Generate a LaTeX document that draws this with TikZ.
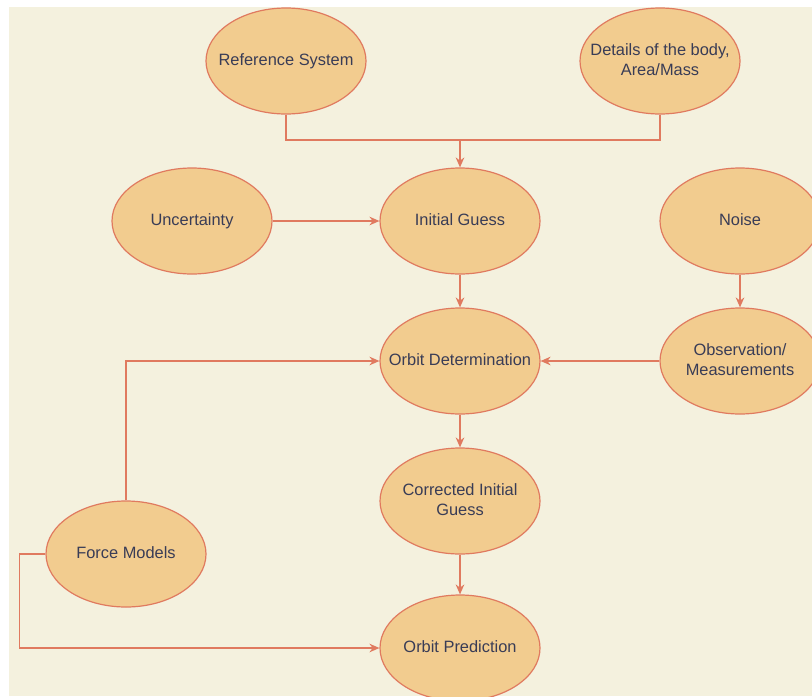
\documentclass[tikz,border=0pt]{standalone}
\usepackage{fontspec}
\setmainfont{Liberation Sans}
\usepackage{xcolor}
\usetikzlibrary{shapes.geometric, arrows.meta}

\definecolor{bgcol}{HTML}{F4F1DE}
\definecolor{fillcol}{HTML}{F2CC8F}
\definecolor{linecol}{HTML}{E07A5F}
\definecolor{txtcol}{HTML}{393C56}

% texte centre sans largeur, pour garder la taille de l'ellipse
\newcommand{\ovaltext}[1]{\makebox[0pt][c]{\begin{tabular}{@{}c@{}}#1\end{tabular}}}

\begin{document}
\begin{tikzpicture}[
    x=0.75pt, y=-0.75pt,
    ell/.style={ellipse, draw=linecol, line width=0.9pt, fill=fillcol, text=txtcol,
        minimum width=120pt, minimum height=79.5pt, inner sep=0pt,
        font=\fontsize{12.3}{15}\selectfont},
    arr/.style={draw=linecol, line width=0.9pt, -{Stealth[length=7.5pt, width=6.5pt]}},
    lnk/.style={draw=linecol, line width=0.9pt},
]

% ---- fond ----
\useasboundingbox (0,0) rectangle (812,696);
\fill[white] (0,0) rectangle (812,696);
\fill[bgcol] (9,7) rectangle (812,696);
\clip (0,0) rectangle (812,696);

% ---- noeuds ----
\node[ell] (refsys)  at (286,61)  {\ovaltext{Reference System}};
\node[ell] (details) at (660,61)  {\ovaltext{Details of the body,\\Area/Mass}};
\node[ell] (uncert)  at (192,221) {\ovaltext{Uncertainty}};
\node[ell] (guess)   at (460,221) {\ovaltext{Initial Guess}};
\node[ell] (noise)   at (740,221) {\ovaltext{Noise}};
\node[ell] (orbdet)  at (460,361) {\ovaltext{Orbit Determination}};
\node[ell] (obs)     at (740,361) {\ovaltext{Observation/\\Measurements}};
\node[ell] (corr)    at (460,501) {\ovaltext{Corrected Initial\\Guess}};
\node[ell] (force)   at (126,554) {\ovaltext{Force Models}};
\node[ell] (pred)    at (460,648) {\ovaltext{Orbit Prediction}};

\coordinate (join) at (460,140);

% ---- liaisons ----
\draw[lnk] (refsys.south) |- (join);
\draw[lnk] (details.south) |- (join);
\draw[arr] (join) -- (guess.north);
\draw[arr] (uncert.east) -- (guess.west);
\draw[arr] (guess.south) -- (orbdet.north);
\draw[arr] (noise.south) -- (obs.north);
\draw[arr] (obs.west) -- (orbdet.east);
\draw[arr] (force.north) |- (orbdet.west);
\draw[arr] (orbdet.south) -- (corr.north);
\draw[arr] (corr.south) -- (pred.north);
\draw[arr] (force.west) -- ++(-26,0) |- (pred.west);

\end{tikzpicture}
\end{document}
